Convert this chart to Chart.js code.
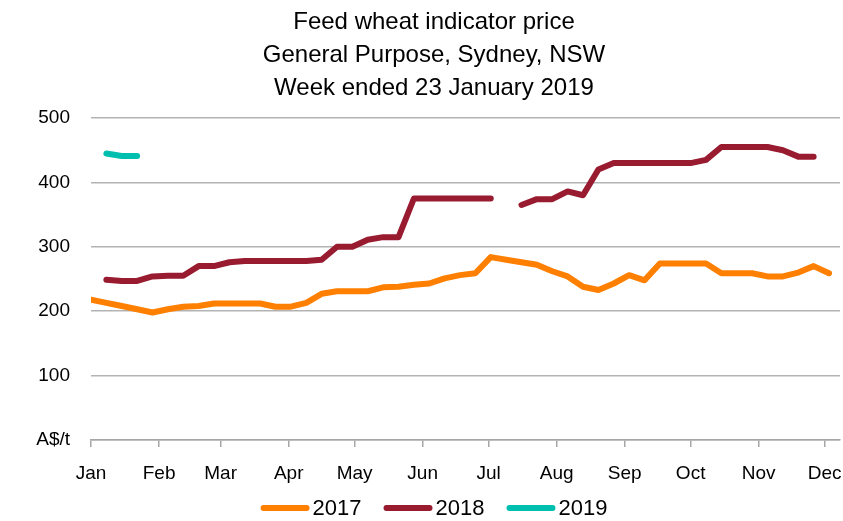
<!DOCTYPE html>
<html>
<head>
<meta charset="utf-8">
<script src="https://cdn.jsdelivr.net/npm/chart.js@4.4.1/dist/chart.umd.min.js"></script>
<style>
  html, body { margin: 0; padding: 0; background: #fff; }
  #wrap { width: 843px; height: 521px; }
</style>
</head>
<body>
<div id="wrap"><canvas id="feedWheatChart" width="843" height="521"></canvas></div>
<script>
// weekly observations, plotted by day of the year
const weekDays = [0, 7, 14, 21, 28, 35, 42, 49, 56, 63, 70, 77, 84, 91, 98, 105, 112,
  119, 126, 133, 140, 147, 154, 161, 168, 175, 182, 189, 196, 203, 210, 217, 224,
  231, 238, 245, 252, 259, 266, 273, 280, 287, 294, 301, 308, 315, 322, 329, 336];

const monthNames = ["Jan", "Feb", "Mar", "Apr", "May", "Jun", "Jul", "Aug", "Sep", "Oct", "Nov", "Dec"];
const monthStarts = [0, 31, 59, 90, 120, 151, 181, 212, 243, 273, 304, 334];

const yTicks = [0, 100, 200, 300, 400, 500];

// A$/t
const price2017 = [218, 213, 208, 203, 198, 203, 207, 208, 212, 212, 212, 212, 207, 207, 213, 227,
  231, 231, 231, 237, 238, 241, 243, 251, 256, 259, 284, 280, 276, 272, 262, 254,
  238, 233, 243, 256, 248, 274, 274, 274, 274, 259, 259, 259, 254, 254, 260, 270, 259];

const price2018 = [null, 249, 247, 247, 254, 255, 255, 270, 270, 276, 278, 278, 278, 278, 278, 280,
  300, 300, 311, 315, 315, 375, 375, 375, 375, 375, 375, null, 365, 374, 374, 386,
  380, 420, 430, 430, 430, 430, 430, 430, 435, 455, 455, 455, 455, 450, 440, 440, null];

const price2019 = [null, 445, 441, 441];

const toPoints = (vals) => vals.map((v, i) => ({ x: weekDays[i], y: v }));

const fontFamily = "'Liberation Sans', Arial, sans-serif";

// Excel-style legend row: short thick line, then the label, all centred under the plot
const bottomLegend = {
  id: "bottomLegend",
  afterDraw(chart) {
    const ctx = chart.ctx;
    const lineLen = 43;
    const textGap = 6;
    const itemGap = 25;
    const y = 508;
    ctx.save();
    ctx.font = "22px " + fontFamily;
    const items = chart.data.datasets.map((ds) => ({
      label: ds.label,
      color: ds.borderColor,
      w: ctx.measureText(ds.label).width,
    }));
    const total = items.reduce((s, it) => s + lineLen + textGap + it.w, 0) + itemGap * (items.length - 1);
    const centre = (chart.chartArea.left + chart.chartArea.right) / 2 - 30;
    let x = centre - total / 2;
    items.forEach((it) => {
      ctx.beginPath();
      ctx.strokeStyle = it.color;
      ctx.lineWidth = 6;
      ctx.lineCap = "round";
      ctx.moveTo(x, y);
      ctx.lineTo(x + lineLen, y);
      ctx.stroke();
      ctx.fillStyle = "#000";
      ctx.textBaseline = "middle";
      ctx.textAlign = "left";
      ctx.fillText(it.label, x + lineLen + textGap, y + 1);
      x += lineLen + textGap + it.w + itemGap;
    });
    ctx.restore();
  },
};

new Chart(document.getElementById("feedWheatChart").getContext("2d"), {
  type: "line",
  data: {
    datasets: [
      { label: "2017", data: toPoints(price2017), borderColor: "#ff7f00", backgroundColor: "#ff7f00" },
      { label: "2018", data: toPoints(price2018), borderColor: "#981b30", backgroundColor: "#981b30" },
      { label: "2019", data: toPoints(price2019), borderColor: "#00bfae", backgroundColor: "#00bfae" },
    ],
  },
  plugins: [bottomLegend],
  options: {
    responsive: false,
    animation: false,
    spanGaps: false,
    layout: { padding: { left: 28, right: 3, top: 0, bottom: 36 } },
    elements: {
      line: { borderWidth: 6, borderCapStyle: "round", borderJoinStyle: "round", tension: 0 },
      point: { radius: 0, hoverRadius: 0 },
    },
    plugins: {
      title: {
        display: true,
        text: ["Feed wheat indicator price", "General Purpose, Sydney, NSW", "Week ended 23 January 2019"],
        color: "#000",
        font: { family: fontFamily, size: 24, weight: "normal", lineHeight: 1.375 },
        padding: { top: 6, bottom: 13 },
      },
      legend: { display: false },
      tooltip: { enabled: false },
    },
    scales: {
      x: {
        type: "linear",
        min: 0,
        max: 341,
        afterBuildTicks: (scale) => {
          scale.ticks = monthStarts.map((d) => ({ value: d }));
        },
        afterFit: (scale) => {
          scale.height = 45;
          scale.paddingRight = 0;
          scale.paddingLeft = 0;
        },
        ticks: {
          autoSkip: false,
          maxRotation: 0,
          color: "#000",
          padding: 15,
          font: { family: fontFamily, size: 19 },
          callback: (value) => monthNames[monthStarts.indexOf(value)],
        },
        grid: { drawOnChartArea: false, drawTicks: true, tickLength: 7, color: "#a6a6a6", lineWidth: 1.5 },
        border: { display: true, color: "#a6a6a6", width: 1.5 },
      },
      y: {
        min: 0,
        max: 500,
        afterBuildTicks: (scale) => {
          scale.ticks = yTicks.map((v) => ({ value: v }));
        },
        afterFit: (scale) => {
          scale.width = 63;
        },
        ticks: {
          color: "#000",
          padding: 21,
          font: { family: fontFamily, size: 19 },
          callback: (value) => (value === 0 ? "A$/t" : value),
        },
        grid: { drawTicks: false, color: "#b3b3b3", lineWidth: 1.5 },
        border: { display: false },
      },
    },
  },
});
</script>
</body>
</html>
